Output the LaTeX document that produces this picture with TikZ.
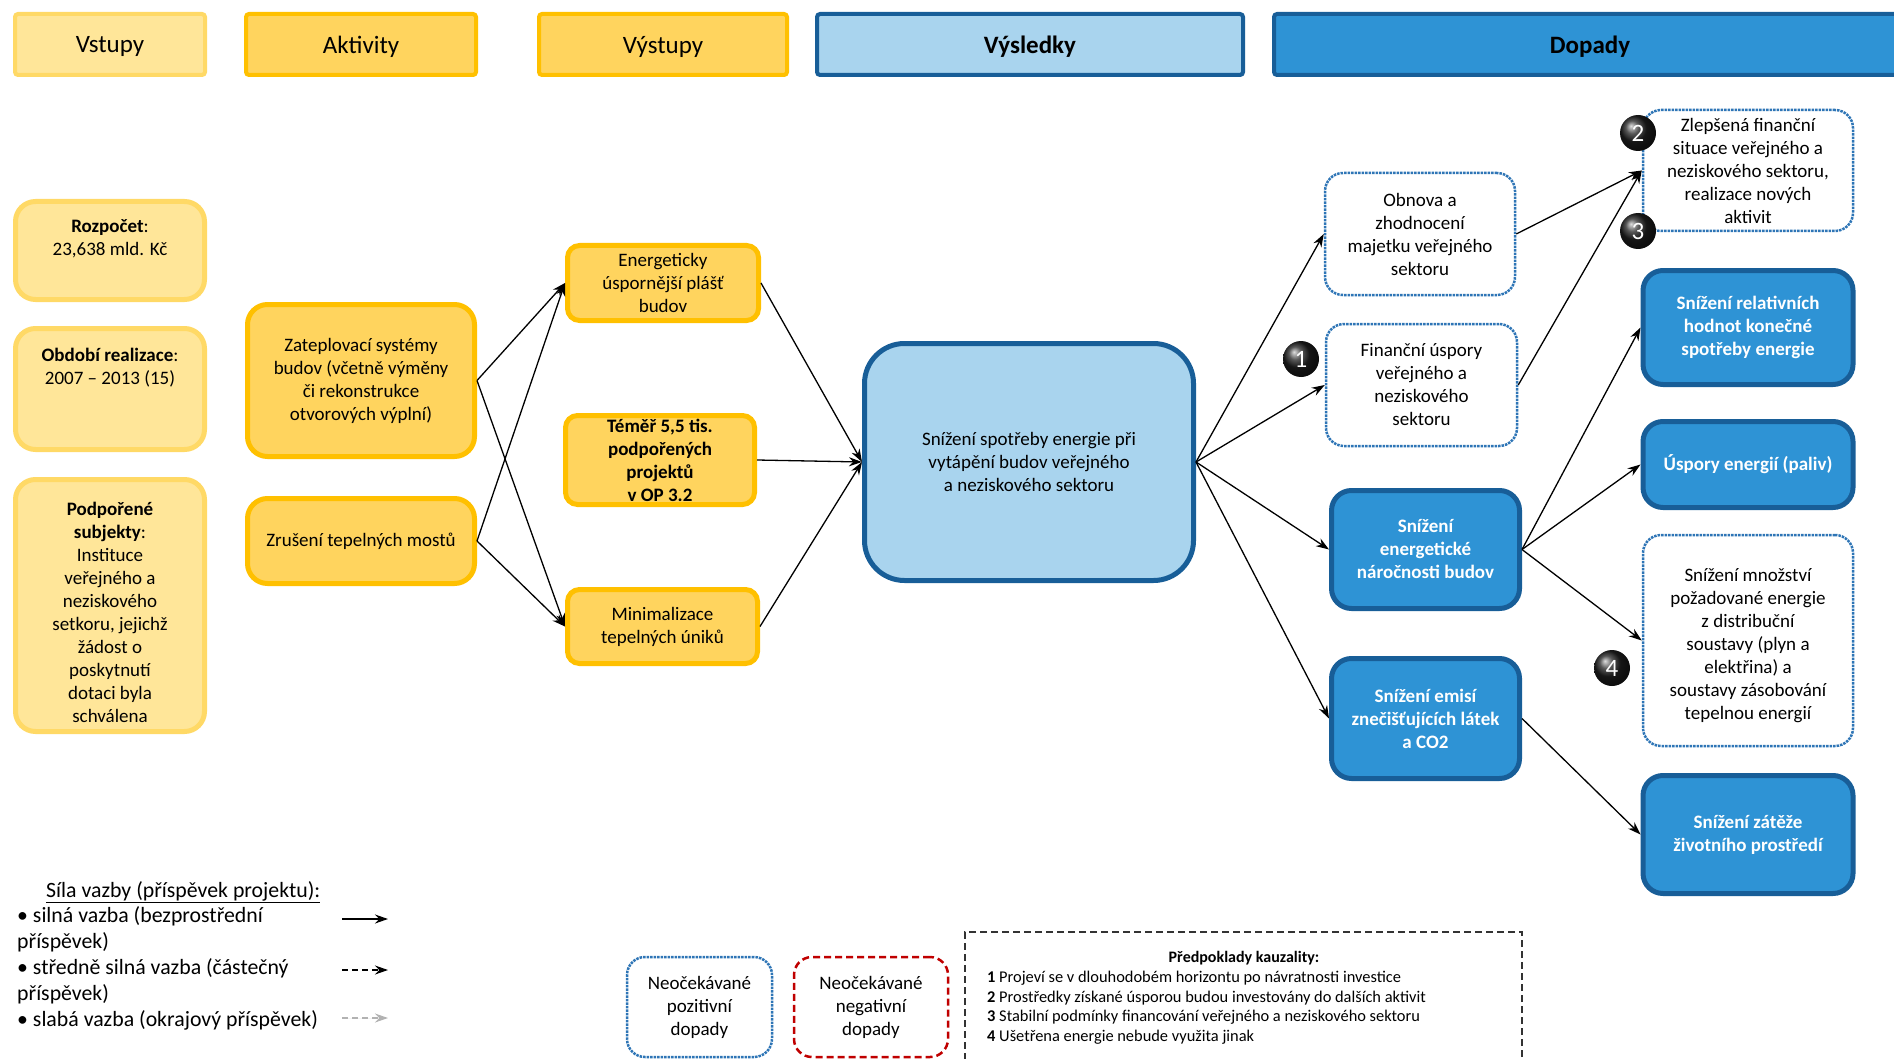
\documentclass[tikz,border=0pt]{standalone}
\usepackage{fontspec}
\setmainfont{Carlito}
\usetikzlibrary{arrows.meta,calc}
\definecolor{inFill}{HTML}{FFE699}
\definecolor{inDraw}{HTML}{FFD966}
\definecolor{acFill}{HTML}{FFD45E}
\definecolor{acDraw}{HTML}{FFC000}
\definecolor{ltBlue}{HTML}{A9D4EE}
\definecolor{dkBlue}{HTML}{185E98}
\definecolor{mdBlue}{HTML}{2E93D5}
\definecolor{dotBlue}{HTML}{2E75B6}
\definecolor{negRed}{HTML}{C00000}
\begin{document}
\begin{tikzpicture}[x=1pt,y=-1pt,
  base/.style={rectangle, align=center, inner sep=0pt, font=\fontsize{19}{23}\selectfont},
  hdr/.style={base, rounded corners=3pt, line width=4pt, font=\fontsize{25}{30}\selectfont, minimum height=61pt, text depth=0pt},
  inbox/.style={base, rounded corners=20pt, line width=5pt, fill=inFill, draw=inDraw, minimum width=189pt},
  actbox/.style={base, rounded corners=20pt, line width=5pt, fill=acFill, draw=acDraw},
  outbox/.style={base, rounded corners=12pt, line width=5pt, fill=acFill, draw=acDraw},
  bluebox/.style={base, rounded corners=20pt, line width=5pt, fill=mdBlue, draw=dkBlue, text=white, font=\fontsize{19}{23}\selectfont\bfseries},
  dotbox/.style={base, rounded corners=18pt, line width=2.5pt, draw=dotBlue, densely dotted, fill=white},
  numball/.style={circle, minimum size=36pt, inner sep=0pt, ball color=black!88, text=white, font=\fontsize{25}{25}\selectfont},
  link/.style={line width=1.3pt, -{Stealth[length=13pt,width=9pt]}},
  txt/.style={align=center, inner sep=0pt, font=\fontsize{19}{23}\selectfont}
]
\useasboundingbox (0,0) rectangle (1894,1059);

% headers
\node[hdr, fill=inFill, draw=inDraw, minimum width=190pt] (hVst) at (110,44.5) {Vstupy};
\node[hdr, fill=acFill, draw=acDraw, minimum width=230pt] (hAkt) at (361,44.5) {Aktivity};
\node[hdr, fill=acFill, draw=acDraw, minimum width=248pt] (hVys) at (663,44.5) {Výstupy};
\node[hdr, fill=ltBlue, draw=dkBlue, minimum width=426pt, font=\fontsize{25}{30}\selectfont\bfseries] (hRes) at (1030,44.5) {Výsledky};
\node[hdr, fill=mdBlue, draw=dkBlue, minimum width=632pt, font=\fontsize{25}{30}\selectfont\bfseries] (hDop) at (1590,44.5) {Dopady};

% inputs
\node[inbox, minimum height=98pt] (rozp) at (110,250.5) {};
\node[txt] (rozpT) at (110,239) {\textbf{Rozpočet}:\\23,638 mld. Kč};
\node[inbox, minimum height=121pt] (obd) at (110,389) {};
\node[txt] (obdT) at (110,367.5) {\textbf{Období realizace}:\\2007 – 2013 (15)};
\node[inbox, minimum height=252pt] (podp) at (110,605.5) {};
\node[txt] (podpT) at (110,612) {\textbf{Podpořené}\\\textbf{subjekty}:\\Instituce\\veřejného a\\neziskového\\setkoru, jejichž\\žádost o\\poskytnutí\\dotaci byla\\schválena};

% activities
\node[actbox, minimum width=227pt, minimum height=152pt] (zatep) at (361,380.5) {Zateplovací systémy\\budov (včetně výměny\\či rekonstrukce\\otvorových výplní)};
\node[actbox, minimum width=227pt, minimum height=85pt] (zrus) at (361,541) {Zrušení tepelných mostů};

% outputs
\node[outbox, minimum width=191pt, minimum height=75pt] (energ) at (663,283) {Energeticky\\úspornější plášť\\budov};
\node[outbox, minimum width=189pt, minimum height=89pt, font=\fontsize{19}{23}\selectfont\bfseries] (temer) at (660,460) {Téměř 5,5 tis.\\podpořených\\projektů\\v OP 3.2};
\node[outbox, minimum width=190pt, minimum height=74pt] (minim) at (662.5,626.5) {Minimalizace\\tepelných úniků};

% central result
\node[base, rounded corners=40pt, line width=5pt, fill=ltBlue, draw=dkBlue, minimum width=329pt, minimum height=237pt] (central) at (1029,462) {Snížení spotřeby energie při\\vytápění budov veřejného\\a neziskového sektoru};

% results
\node[dotbox, minimum width=190pt, minimum height=122pt] (obnova) at (1420,234) {Obnova a\\zhodnocení\\majetku veřejného\\sektoru};
\node[dotbox, minimum width=191pt, minimum height=122pt] (financ) at (1421.5,385) {Finanční úspory\\veřejného a\\neziskového\\sektoru};
\node[bluebox, minimum width=188pt, minimum height=118pt] (narocn) at (1425.5,549.5) {Snížení\\energetické\\náročnosti budov};
\node[bluebox, minimum width=188pt, minimum height=120pt] (emisi) at (1425.5,718.5) {Snížení emisí\\znečišťujících látek\\a CO2};

% impacts
\node[dotbox, minimum width=210pt, minimum height=121pt] (zleps) at (1748,170.5) {Zlepšená finanční\\situace veřejného a\\neziskového sektoru,\\realizace nových\\aktivit};
\node[bluebox, minimum width=210pt, minimum height=114pt] (relat) at (1748,327.5) {Snížení relativních\\hodnot konečné\\spotřeby energie};
\node[bluebox, minimum width=210pt, minimum height=86pt] (uspory) at (1748,464.5) {Úspory energií (paliv)};
\node[dotbox, minimum width=210pt, minimum height=211pt] (mnozst) at (1748,640.5) {};
\node[txt] (mnozstT) at (1748,645.5) {Snížení množství\\požadované energie\\z distribuční\\soustavy (plyn a\\elektřina) a\\soustavy zásobování\\tepelnou energií};
\node[bluebox, minimum width=210pt, minimum height=118pt] (zatez) at (1748,834.5) {Snížení zátěže\\životního prostředí};

% connectors
\draw[link] (zatep.east) -- (energ.west);
\draw[link] (zatep.east) -- (minim.west);
\draw[link] (zrus.east) -- (energ.west);
\draw[link] (zrus.east) -- (minim.west);
\draw[link] (energ.east) -- (central.west);
\draw[link] (temer.east) -- (central.west);
\draw[link] (minim.east) -- (central.west);
\draw[link] (central.east) -- (obnova.west);
\draw[link] (central.east) -- (financ.west);
\draw[link] (central.east) -- (narocn.west);
\draw[link] (central.east) -- (emisi.west);
\draw[link] (obnova.east) -- (zleps.west);
\draw[link] (financ.east) -- (zleps.west);
\draw[link] (narocn.east) -- (relat.west);
\draw[link] (narocn.east) -- (uspory.west);
\draw[link] (narocn.east) -- (mnozst.west);
\draw[link] (emisi.east) -- (zatez.west);

% numbered balls
\node[numball] (b1) at (1301,359) {1};
\node[numball] (b2) at (1638,133) {2};
\node[numball] (b3) at (1638,231) {3};
\node[numball] (b4) at (1612,668) {4};

% legend
\node[anchor=north west, align=left, inner sep=0pt, font=\fontsize{21.8}{25.8}\selectfont] (legend) at (17,881) {\hspace*{29pt}\underline{Síla vazby (příspěvek projektu):}\\• silná vazba (bezprostřední\\příspěvek)\\• středně silná vazba (částečný\\příspěvek)\\• slabá vazba (okrajový příspěvek)};
\coordinate (l1a) at (342,919); \coordinate (l1b) at (388,919);
\coordinate (l2a) at (342,970); \coordinate (l2b) at (388,970);
\coordinate (l3a) at (342,1018); \coordinate (l3b) at (388,1018);
\draw[link] (l1a) -- (l1b);
\draw[link, dash pattern=on 6pt off 4pt] (l2a) -- (l2b);
\draw[link, dash pattern=on 6pt off 4pt, draw=black!30, fill=black!30] (l3a) -- (l3b);

% bottom boxes
\node[dotbox, minimum width=145pt, minimum height=100pt] (pozit) at (699.5,1007) {Neočekávané\\pozitivní\\dopady};
\node[base, rounded corners=18pt, line width=2.5pt, draw=negRed, dash pattern=on 7pt off 4pt, fill=white, minimum width=154pt, minimum height=100pt] (negat) at (871,1007) {Neočekávané\\negativní\\dopady};
\node[base, line width=1.5pt, draw=black!80, dash pattern=on 7pt off 4pt, minimum width=557pt, minimum height=140pt] (predp) at (1243.5,1002) {};
\node[inner sep=0pt, font=\fontsize{16}{19}\selectfont\bfseries] (predpT) at (1244,958) {Předpoklady kauzality:};
\node[anchor=north west, align=left, inner sep=0pt, font=\fontsize{16.4}{19.6}\selectfont] (predpL) at (987,971) {\textbf{1} Projeví se v dlouhodobém horizontu po návratnosti investice\\\textbf{2} Prostředky získané úsporou budou investovány do dalších aktivit\\\textbf{3} Stabilní podmínky financování veřejného a neziskového sektoru\\\textbf{4} Ušetřena energie nebude využita jinak};
\end{tikzpicture}
\end{document}
